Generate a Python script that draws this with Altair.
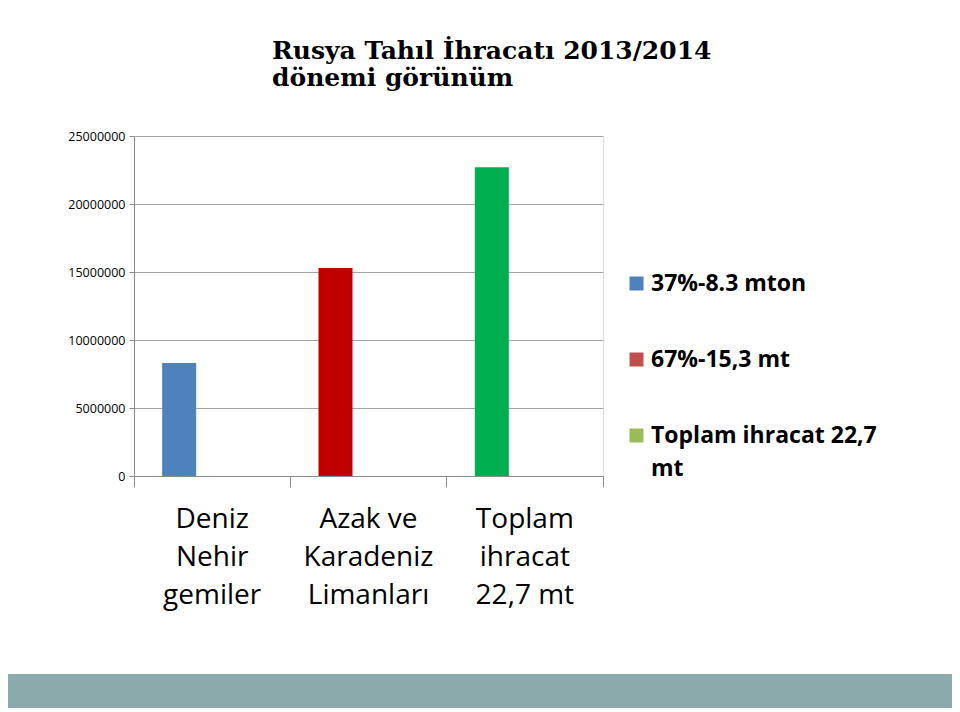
import altair as alt
import pandas as pd

categories = ["Deniz\nNehir\ngemiler", "Azak ve\nKaradeniz\nLimanları", "Toplam\nihracat\n22,7 mt"]
values = [8300000, 15300000, 22700000]
bar_colors = ["#4F81BD", "#C00000", "#00B050"]
legend_labels = ["37%-8.3 mton", "67%-15,3 mt", "Toplam ihracat 22,7 mt"]
legend_colors = ["#4F81BD", "#C0504D", "#9BBB59"]
y_ticks = [0, 5000000, 10000000, 15000000, 20000000, 25000000]
title_lines = ["Rusya Tahıl İhracatı 2013/2014", "dönemi görünüm"]

df = pd.DataFrame({"category": categories, "value": values,
                   "barcolor": bar_colors, "series": legend_labels})

W, H = 469, 340
PL, PT = 126, 128
TOTAL_W, TOTAL_H = 944, 704

x_enc = alt.X("category:N", sort=categories, title=None,
              scale=alt.Scale(paddingInner=0, paddingOuter=0),
              axis=alt.Axis(labelAngle=0, labelExpr="split(datum.label, '\\n')",
                            bandPosition=1, tickExtra=True,
                            labelFont="Open Sans", labelFontSize=28, labelColor="#000000",
                            labelLineHeight=38, labelBaseline="top", labelPadding=18,
                            tickSize=11, tickColor="#8C8C8C", domainColor="#8C8C8C",
                            grid=False, labelAlign="center"))
y_enc = alt.Y("value:Q", title=None,
              scale=alt.Scale(domain=[0, 25000000], nice=False),
              axis=alt.Axis(values=y_ticks, format="d", labelFont="Open Sans",
                            labelFontSize=12.5, labelColor="#000000", tickSize=5,
                            labelPadding=4, tickColor="#8C8C8C", domainColor="#8C8C8C",
                            grid=True, gridColor="#A6A6A6"))

bars = alt.Chart(df).mark_bar(size=34, xOffset=-33).encode(
    x=x_enc, y=y_enc,
    fill=alt.Fill("barcolor:N", scale=None),
)

legend_layer = alt.Chart(df).mark_square(size=0, filled=True).encode(
    x=alt.X("category:N", sort=categories),
    y=alt.Y("value:Q"),
    color=alt.Color("series:N", sort=legend_labels,
                    scale=alt.Scale(domain=legend_labels, range=legend_colors),
                    legend=alt.Legend(
                        title=None, orient="none", legendX=491, legendY=136,
                        padding=0, symbolType="square", symbolSize=196,
                        symbolOpacity=1, symbolStrokeWidth=0,
                        labelFont="Open Sans", labelFontSize=23, labelFontWeight="bold",
                        labelColor="#000000", labelOffset=3, labelLimit=400,
                        labelBaseline="middle", rowPadding=52,
                        labelExpr="datum.label == 'Toplam ihracat 22,7 mt' ? ['Toplam ihracat 22,7', 'mt'] : datum.label",
                    )),
)

band = alt.Chart(df).mark_rect(color="#8BABAB").encode(
    x=alt.value(-PL), x2=alt.value(TOTAL_W - PL),
    y=alt.value(538), y2=alt.value(572),
)

chart = alt.layer(band, bars, legend_layer).properties(
    width=W, height=H,
    title=alt.TitleParams(text=title_lines, font="DejaVu Serif", fontSize=25,
                          fontWeight="bold", color="#000000", anchor="start",
                          frame="group", dx=138, offset=39, lineHeight=27),
    autosize=alt.AutoSizeParams(type="none"),
    padding={"left": PL, "top": PT, "right": TOTAL_W - PL - W, "bottom": TOTAL_H - PT - H},
).configure_view(stroke=None).configure(
    background="#FFFFFF", style={"guide-label": {"lineHeight": 33}})

chart.save("out.html", embed_options={"renderer": "svg", "actions": False})
